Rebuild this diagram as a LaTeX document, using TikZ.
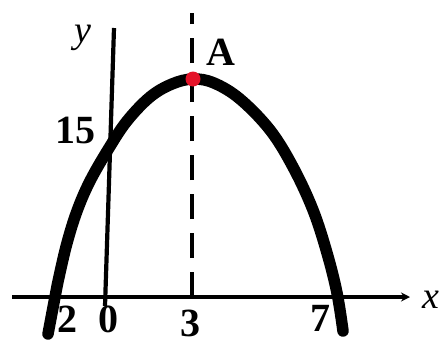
\documentclass[tikz,border=0pt]{standalone}
\usepackage{fontspec}
\setmainfont{Liberation Serif}
\usetikzlibrary{arrows.meta}
\definecolor{dotred}{RGB}{228,18,40}
\begin{document}
\begin{tikzpicture}[x=1pt,y=-1pt,
  axisline/.style={line width=4.2pt},
  curveline/.style={line width=11.5pt,line cap=round,line join=round},
  dashline/.style={line width=3.6pt,dash pattern=on 25pt off 14pt},
  numlbl/.style={font=\fontsize{40}{40}\selectfont\bfseries,inner sep=0pt},
  varlbl/.style={font=\fontsize{38}{38}\selectfont\itshape,inner sep=0pt}]
\useasboundingbox (0,0) rectangle (441,343);
% axes
\coordinate (xs) at (12,297);
\coordinate (xe) at (410,297);
\draw[axisline,-{Stealth[length=9pt,width=9pt]}] (xs) -- (xe);
\coordinate (ys) at (105,306);
\coordinate (ye) at (114,28);
\draw[axisline] (ys) -- (ye);
% dashed axis of symmetry
\coordinate (ds) at (192,297);
\coordinate (de) at (192,13);
\draw[dashline] (ds) -- (de);
% parabola
\draw[curveline] plot[smooth,tension=0.6] coordinates {
 (48,334) (55,297) (59,277) (67,243) (77,211) (90,181) (109,148) (127,121)
 (150,97) (172,84) (193,79) (214,83) (240,99) (270,130) (293,167)
 (313,210) (327,253) (337,293) (343,331)};
% vertex
\node[circle,fill=dotred,minimum size=15pt,inner sep=0pt] (A) at (193,79) {};
% labels
\node[numlbl] (lA) at (221,52) {A};
\node[numlbl] (l15) at (75,130) {15};
\node[numlbl] (l2) at (67,319) {2};
\node[numlbl] (l0) at (108,319) {0};
\node[numlbl] (l3) at (190,323) {3};
\node[numlbl] (l7) at (320,318) {7};
\node[varlbl] (lx) at (431,300) {x};
\node[varlbl] (ly) at (83,38) {y};
\end{tikzpicture}
\end{document}
